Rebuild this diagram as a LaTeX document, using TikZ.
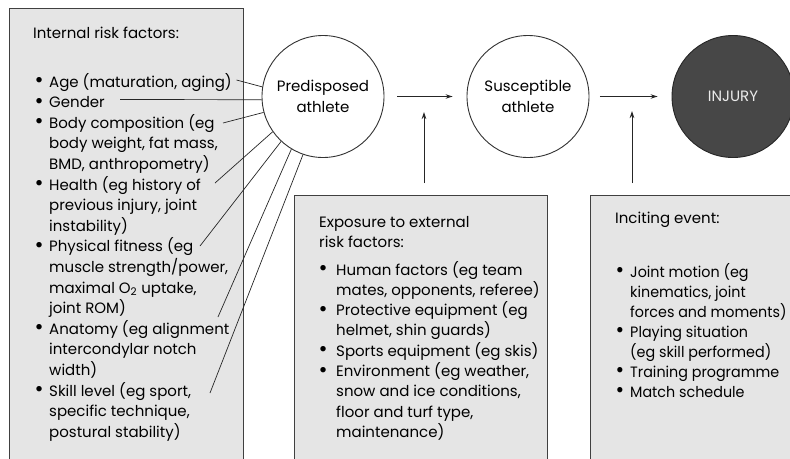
\documentclass[tikz,border=0pt]{standalone}
\usepackage{fontspec}
\setmainfont{Poppins}
\usetikzlibrary{arrows.meta}
\newcommand{\fs}{\fontsize{15}{20.6}\selectfont}
\newlength\bw
\newcommand{\bu}{\makebox[\bw][l]{{\fontsize{22}{0}\selectfont\raisebox{-0.06ex}{\textbullet}}}}
\newcommand{\ct}{\hspace*{\bw}}
\tikzset{
 riskbox/.style={draw=black!75, fill=black!10, line width=0.9pt, inner sep=0pt, anchor=north west},
 athlete/.style={circle, draw=black!80, line width=0.9pt, minimum size=122pt, inner sep=0pt, align=center, font=\fs},
 link/.style={draw=black!85, line width=0.7pt},
 flow/.style={draw=black!85, line width=0.8pt, -{Stealth[length=7pt,width=4.5pt]}},
 txt/.style={inner sep=0pt, anchor=base west, font=\fs}
}
\begin{document}
\begin{tikzpicture}[x=1pt,y=-1pt]
\useasboundingbox[fill=white] (0,0) rectangle (790,458);
% boxes
\node[riskbox, minimum width=234pt, minimum height=470pt] (intbox) at (9,7.5) {};
\node[riskbox, minimum width=253pt, minimum height=280pt] (extbox) at (294,195) {};
\node[riskbox, minimum width=220pt, minimum height=280pt] (incbox) at (590,195) {};
% circles
\node[athlete] (pre) at (323,96.5) {Predisposed\\athlete};
\node[athlete] (sus) at (528,96.5) {Susceptible\\athlete};
\node[athlete, fill=black!72, draw=black!85, text=black!8] (inj) at (733,96.5) {INJURY};
% texts
\node[txt] (inthead) at (33,38) {Internal risk factors:};
\node[txt] (intlist) at (34.5,87) {\parbox[t]{220pt}{\fs\setlength\bw{14.5pt}\raggedright
\bu Age (maturation, aging)\\
\bu Gender\\
\bu Body composition (eg\\
\ct body weight, fat mass,\\
\ct BMD, anthropometry)\\
\bu Health (eg history of\\
\ct previous injury, joint\\
\ct instability)\\
\bu Physical fitness (eg\\
\ct muscle strength/power,\\
\ct maximal O\textsubscript{2} uptake,\\
\ct joint ROM)\\
\bu Anatomy (eg alignment\\
\ct intercondylar notch\\
\ct width)\\
\bu Skill level (eg sport,\\
\ct specific technique,\\
\ct postural stability)}};
\node[txt] (exthead) at (319,227) {\parbox[t]{220pt}{\fontsize{15}{20}\selectfont\raggedright
Exposure to external\\risk factors:}};
\node[txt] (extlist) at (318.5,275) {\parbox[t]{240pt}{\fontsize{15}{20.3}\selectfont\setlength\bw{17.5pt}\raggedright
\bu Human factors (eg team\\
\ct mates, opponents, referee)\\
\bu Protective equipment (eg\\
\ct helmet, shin guards)\\
\bu Sports equipment (eg skis)\\
\bu Environment (eg weather,\\
\ct snow and ice conditions,\\
\ct floor and turf type,\\
\ct maintenance)}};
\node[txt] (inchead) at (615,223) {Inciting event:};
\node[txt] (inclist) at (615.5,277) {\parbox[t]{200pt}{\fontsize{15}{20}\selectfont\addfontfeature{FakeStretch=0.955}\setlength\bw{14.5pt}\raggedright
\bu Joint motion (eg\\
\ct kinematics, joint\\
\ct forces and moments)\\
\bu Playing situation\\
\ct (eg skill performed)\\
\bu Training programme\\
\bu Match schedule}};
% links from risk factors
\coordinate (fage) at (236.5,80);
\coordinate (fgen) at (120,99.5);
\coordinate (fbody) at (223,123);
\coordinate (fhealth) at (215,183);
\coordinate (ffit) at (200,246);
\coordinate (fanat) at (218,317);
\coordinate (fskill) at (210,393);
\draw[link] (fage) -- (pre.171);
\draw[link] (fgen) -- (pre.183);
\draw[link] (fbody) -- (pre.195);
\draw[link] (fhealth) -- (pre.215);
\draw[link] (ffit) -- (pre.227);
\draw[link] (fanat) -- (pre.239);
\draw[link] (fskill) -- (pre.251);
% flow arrows
\draw[flow, shorten <=13pt, shorten >=14pt] (pre) -- (sus);
\draw[flow, shorten <=10.5pt, shorten >=14pt] (sus) -- (inj);
\coordinate (t1) at (424,112);
\coordinate (t2) at (632,111);
\draw[flow, shorten <=12pt] (t1 |- extbox.north) -- (t1);
\draw[flow, shorten <=12pt] (t2 |- incbox.north) -- (t2);
\end{tikzpicture}
\end{document}
